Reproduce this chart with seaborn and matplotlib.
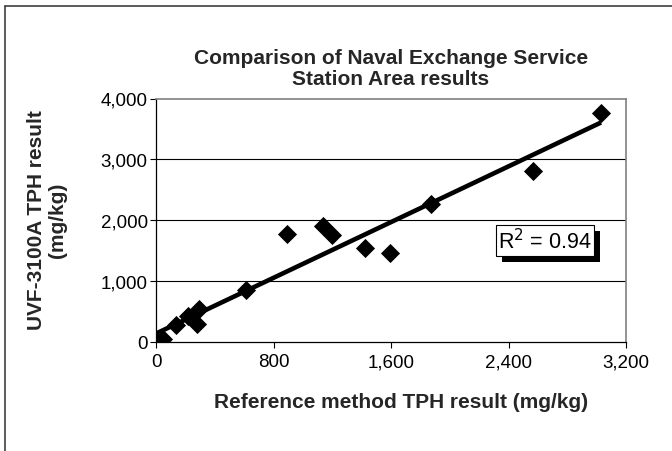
import numpy as np
import pandas as pd
import matplotlib
matplotlib.use("Agg")
import matplotlib.pyplot as plt
import matplotlib.patheffects as pe
from matplotlib.ticker import FuncFormatter, FixedLocator
import seaborn as sns

# Data
reference_tph = [5, 30, 50, 135, 220, 280, 290, 615, 895, 1140, 1200, 1420, 1590, 1870, 2570, 3030]
uvf_tph = [5, 20, 55, 280, 430, 300, 545, 850, 1775, 1910, 1760, 1550, 1460, 2260, 2810, 3760]
x_ticks = [0, 800, 1600, 2400, 3200]
y_ticks = [0, 1000, 2000, 3000, 4000]
r2_label = "R$^2$ = 0.94"
title = "Comparison of Naval Exchange Service\nStation Area results"
x_label = "Reference method TPH result (mg/kg)"
y_label = "UVF-3100A TPH result\n(mg/kg)"

df = pd.DataFrame({"ref": reference_tph, "uvf": uvf_tph})

sns.set_theme(style="white")
plt.rcParams["font.family"] = ["Liberation Sans", "DejaVu Sans"]

W, H = 672, 452
fig = plt.figure(figsize=(W / 100, H / 100), dpi=100)
fig.patch.set_facecolor("white")

ax_l, ax_r, ax_t, ax_b = 156, 626, 99.5, 343
ax = fig.add_axes([ax_l / W, 1 - ax_b / H, (ax_r - ax_l) / W, (ax_b - ax_t) / H])

sns.regplot(data=df, x="ref", y="uvf", ax=ax, ci=None, truncate=True,
            marker="D",
            scatter_kws=dict(s=95, color="black", linewidths=0, alpha=1, zorder=3),
            line_kws=dict(color="black", lw=3.3, alpha=1, zorder=4, solid_capstyle="butt"))

ax.set_xlim(0, 3200)
ax.set_ylim(0, 4000)
ax.xaxis.set_major_locator(FixedLocator(x_ticks))
ax.yaxis.set_major_locator(FixedLocator(y_ticks))
fmt = FuncFormatter(lambda v, p: f"{int(v):,}")
ax.xaxis.set_major_formatter(fmt)
ax.yaxis.set_major_formatter(fmt)
ax.tick_params(axis="both", which="major", direction="out", length=4, width=0.8,
               color="black", labelsize=13.5, labelcolor="black", pad=2,
               bottom=True, left=True)
ax.tick_params(axis="x", pad=4)
ax.set_xlabel("")
ax.set_ylabel("")

for y in y_ticks[1:-1]:
    ax.axhline(y, color="black", lw=0.8, zorder=1)

for side in ["top", "right"]:
    ax.spines[side].set_color("#808080")
    ax.spines[side].set_linewidth(1.2)
for side in ["left", "bottom"]:
    ax.spines[side].set_color("black")
    ax.spines[side].set_linewidth(0.9)
ax.set_facecolor("white")

# R^2 annotation box with shadow
t = ax.text((545 - ax_l) / (ax_r - ax_l), (ax_b - 241.5) / (ax_b - ax_t), r2_label,
            transform=ax.transAxes, ha="center", va="center",
            fontsize=15.5, color="black", zorder=6,
            bbox=dict(boxstyle="square,pad=0.12", facecolor="white", edgecolor="black", lw=0.8))
t.get_bbox_patch().set_path_effects([
    pe.SimplePatchShadow(offset=(4.3, -4.3), shadow_rgbFace="black", alpha=1.0),
    pe.Normal()])

cx = (ax_l + ax_r) / 2 / W
fig.text(cx, 1 - 69 / H, title, ha="center", va="center", fontsize=15,
         fontweight="bold", linespacing=1.08)
fig.text(401 / W, 1 - 402 / H, x_label, ha="center", va="center", fontsize=15,
         fontweight="bold")
fig.text(47 / W, 1 - 220 / H, y_label, ha="center", va="center", fontsize=15,
         fontweight="bold", rotation=90, linespacing=1.08)

# outer chart-area frame (left and top visible)
fig.add_artist(plt.Line2D([5 / W, 5 / W], [0, 1 - 7 / H], transform=fig.transFigure,
                          color="#404040", lw=1.2))
fig.add_artist(plt.Line2D([5 / W, 1], [1 - 7 / H, 1 - 7 / H], transform=fig.transFigure,
                          color="#404040", lw=1.2))

fig.savefig("out.png", dpi=100, facecolor="white")
